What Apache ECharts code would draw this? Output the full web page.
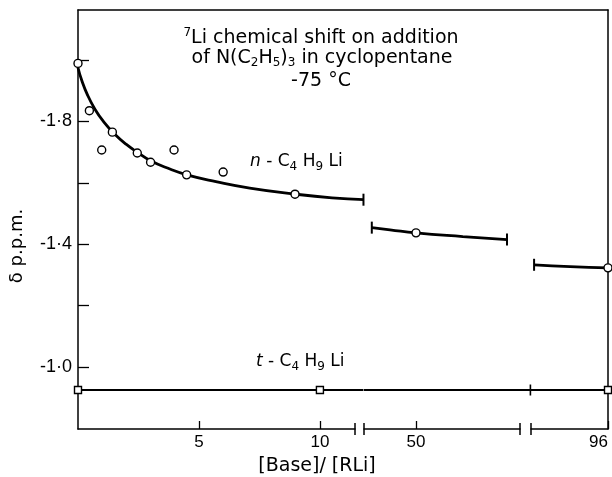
<!DOCTYPE html>
<html><head><meta charset="utf-8">
<script src="https://cdn.jsdelivr.net/npm/echarts@6/dist/echarts.min.js"></script>
<style>html,body{margin:0;padding:0;background:#fff}#c{width:612px;height:477px}</style>
</head><body><div id="c"></div>
<script>
// ---- measured data: n-C4H9Li (circles) ----
const nBuLiX = [0, 0.47, 0.98, 1.42, 2.45, 3.0, 3.97, 4.49, 6.0, 8.97, 50, 96];
const nBuLiY = [-1.989, -1.835, -1.707, -1.765, -1.697, -1.667, -1.707, -1.626, -1.635, -1.563, -1.437, -1.323];
// ---- measured data: t-C4H9Li (squares) ----
const tBuLiX = [0, 10, 96];
const tBuLiY = [-0.925, -0.925, -0.925];
// ---- drawn fit curve for n-C4H9Li, one piece per axis segment ----
const nFit1X = [0, 0.15, 0.4, 0.7, 1.05, 1.5, 2.0, 2.5, 3.0, 3.8, 4.5, 5.7, 7.1, 9.0, 10.5, 11.8];
const nFit1Y = [-1.975, -1.935, -1.885, -1.84, -1.80, -1.76, -1.725, -1.697, -1.672, -1.645, -1.626, -1.604, -1.583, -1.563, -1.551, -1.545];
const nFit2X = [41.5, 45, 50, 59, 67.5];
const nFit2Y = [-1.454, -1.447, -1.437, -1.425, -1.415];
const nFit3X = [81.6, 88.6, 96];
const nFit3Y = [-1.333, -1.327, -1.323];
// ---- drawn line for t-C4H9Li, one piece per axis segment ----
const tFitX = [[0, 11.8], [40, 72], [81, 96]];
const tFitLevel = -0.925;
// ---- axes ----
const segMin = [0, 40, 81];
const segMax = [11.45, 70, 96];
const segDataMax = [11.8, 72.2, 96];   // drawn pieces run slightly past each break
const xTickValues = [[5, 10], [50], [96]];
const yTickValues = [-2.0, -1.8, -1.6, -1.4, -1.2, -1.0];
const yLabelValues = [-1.8, -1.4, -1.0];
const yMin = -2.163, yMax = -0.798;

const nFitX = [nFit1X, nFit2X, nFit3X];
const nFitY = [nFit1Y, nFit2Y, nFit3Y];
const capStart = [false, true, true];
const capEnd = [true, true, false];
const tCapEnd = [false, true, false];

const chart = echarts.init(document.getElementById('c'), null, {renderer: 'canvas'});
const BLACK = '#000';
const TOP = 10, HEIGHT = 419;
const axisGrids = [
  {left: 78, top: TOP, width: 277, height: HEIGHT},
  {left: 364, top: TOP, width: 156, height: HEIGHT},
  {left: 531, top: TOP, width: 77, height: HEIGHT}
];
const grids = [], xAxes = [], yAxes = [], series = [];
// axis grids 0..2
for (let i = 0; i < 3; i++) {
  grids.push(axisGrids[i]);
  xAxes.push({
    gridIndex: i, type: 'value', min: segMin[i], max: segMax[i],
    axisLine: {show: true, onZero: false, lineStyle: {color: BLACK, width: 1.5}},
    axisTick: {show: true, inside: true, length: 8, customValues: xTickValues[i], lineStyle: {color: BLACK, width: 1.3}},
    axisLabel: {show: true, customValues: xTickValues[i], color: BLACK, fontSize: 17, fontFamily: 'Liberation Sans', margin: 5, align: i === 2 ? 'right' : 'center'},
    splitLine: {show: false}
  });
  yAxes.push(i === 0 ? {
    gridIndex: 0, type: 'value', inverse: true, min: yMin, max: yMax,
    axisLine: {show: true, onZero: false, lineStyle: {color: BLACK, width: 1.5}},
    axisTick: {show: true, inside: true, length: 11, customValues: yTickValues, lineStyle: {color: BLACK, width: 1.3}},
    axisLabel: {show: true, customValues: yLabelValues, color: BLACK, fontSize: 18, fontFamily: 'Liberation Sans', margin: 6,
      formatter: v => v.toFixed(1).replace('.', '·')},
    splitLine: {show: false}
  } : {gridIndex: i, type: 'value', inverse: true, min: yMin, max: yMax, show: false});
}
// data grids 3..5: same scale as axis grids, extended to the end of each drawn piece
for (let i = 0; i < 3; i++) {
  const g = axisGrids[i];
  const ppu = g.width / (segMax[i] - segMin[i]);
  grids.push({left: g.left, top: TOP, height: HEIGHT, width: ppu * (segDataMax[i] - segMin[i])});
  xAxes.push({gridIndex: 3 + i, type: 'value', min: segMin[i], max: segDataMax[i], show: false});
  yAxes.push({gridIndex: 3 + i, type: 'value', inverse: true, min: yMin, max: yMax, show: false});
}
// frame grid 6 (top and right edges)
grids.push({left: 78, top: TOP, width: 530, height: HEIGHT});
xAxes.push({gridIndex: 6, type: 'value', position: 'top', min: 0, max: 1,
  axisLine: {show: true, onZero: false, lineStyle: {color: BLACK, width: 1.5}},
  axisTick: {show: false}, axisLabel: {show: false}, splitLine: {show: false}});
yAxes.push({gridIndex: 6, type: 'value', position: 'right', min: 0, max: 1,
  axisLine: {show: true, onZero: false, lineStyle: {color: BLACK, width: 1.5}},
  axisTick: {show: false}, axisLabel: {show: false}, splitLine: {show: false}});

for (let i = 0; i < 3; i++) {
  const d = 3 + i;
  const inSeg = p => p[0] >= segMin[i] - 0.5 && p[0] <= segDataMax[i] + 0.5;
  // fit curve for n-C4H9Li
  const fx = nFitX[i], fy = nFitY[i];
  series.push({
    type: 'line', xAxisIndex: d, yAxisIndex: d, smooth: 0.5,
    symbol: 'none', lineStyle: {color: BLACK, width: 2.8}, itemStyle: {color: BLACK, opacity: 1}, z: 3,
    data: fx.map((x, k) => {
      const cap = (k === 0 && capStart[i]) || (k === fx.length - 1 && capEnd[i]);
      return cap ? {value: [x, fy[k]], symbol: 'rect', symbolSize: [2, 12]} : {value: [x, fy[k]], symbol: 'none'};
    })
  });
  // t-C4H9Li line
  const tx = tFitX[i];
  series.push({
    type: 'line', xAxisIndex: d, yAxisIndex: d, symbol: 'none',
    lineStyle: {color: BLACK, width: 2.2}, itemStyle: {color: BLACK, opacity: 1}, z: 3,
    data: tx.map((x, k) => (k === tx.length - 1 && tCapEnd[i]) ?
      {value: [x, tFitLevel], symbol: 'rect', symbolSize: [1.6, 11]} : {value: [x, tFitLevel], symbol: 'none'})
  });
  // circles
  series.push({
    type: 'scatter', xAxisIndex: d, yAxisIndex: d, clip: false, symbol: 'circle', symbolSize: 8,
    itemStyle: {color: '#fff', borderColor: BLACK, borderWidth: 1.4, opacity: 1}, z: 5,
    data: nBuLiX.map((x, k) => [x, nBuLiY[k]]).filter(inSeg)
  });
  // squares
  series.push({
    type: 'scatter', xAxisIndex: d, yAxisIndex: d, clip: false, symbol: 'rect', symbolSize: 7,
    itemStyle: {color: '#fff', borderColor: BLACK, borderWidth: 1.4, opacity: 1}, z: 5,
    data: tBuLiX.map((x, k) => [x, tBuLiY[k]]).filter(inSeg)
  });
  // axis-break marks at inner segment ends
  const brk = [];
  if (i > 0) brk.push([segMin[i], yMax]);
  if (i < 2) brk.push([segMax[i], yMax]);
  series.push({
    type: 'scatter', xAxisIndex: i, yAxisIndex: i, clip: false, symbol: 'rect', symbolSize: [1.5, 12],
    itemStyle: {color: BLACK, opacity: 1}, z: 4, data: brk
  });
}

const FONT = 'DejaVu Sans';
function txt(text, x, y, size, align, rotation) {
  return {type: 'text', x: x, y: y, rotation: rotation || 0, silent: true, z: 10,
    style: {text: text, fontSize: size, fontFamily: FONT, fill: BLACK, align: align, verticalAlign: 'middle',
      lineHeight: 22, rich: {
        sub: {fontSize: 12, lineHeight: 12, verticalAlign: 'bottom', fontFamily: FONT, fill: BLACK},
        sup: {fontSize: 12, lineHeight: 10, verticalAlign: 'top', fontFamily: FONT, fill: BLACK},
        it: {fontSize: size, lineHeight: 22, fontStyle: 'italic', fontFamily: FONT, fill: BLACK}
      }}};
}

chart.setOption({
  animation: false,
  backgroundColor: '#fff',
  grid: grids,
  xAxis: xAxes,
  yAxis: yAxes,
  series: series,
  graphic: [
    txt('{sup|7}Li chemical shift on addition', 321, 38, 19, 'center'),
    txt('of N(C{sub|2}H{sub|5}){sub|3} in cyclopentane', 322, 58, 19, 'center'),
    txt('-75 °C', 321, 81, 19, 'center'),
    txt('{it|n} - C{sub|4} H{sub|9} Li', 250, 162, 17, 'left'),
    txt('{it|t} - C{sub|4} H{sub|9} Li', 256, 362, 17, 'left'),
    txt('[Base]/ [RLi]', 317, 466, 19, 'center'),
    txt('δ p.p.m.', 17, 246, 18, 'center', Math.PI / 2)
  ]
});
</script></body></html>
